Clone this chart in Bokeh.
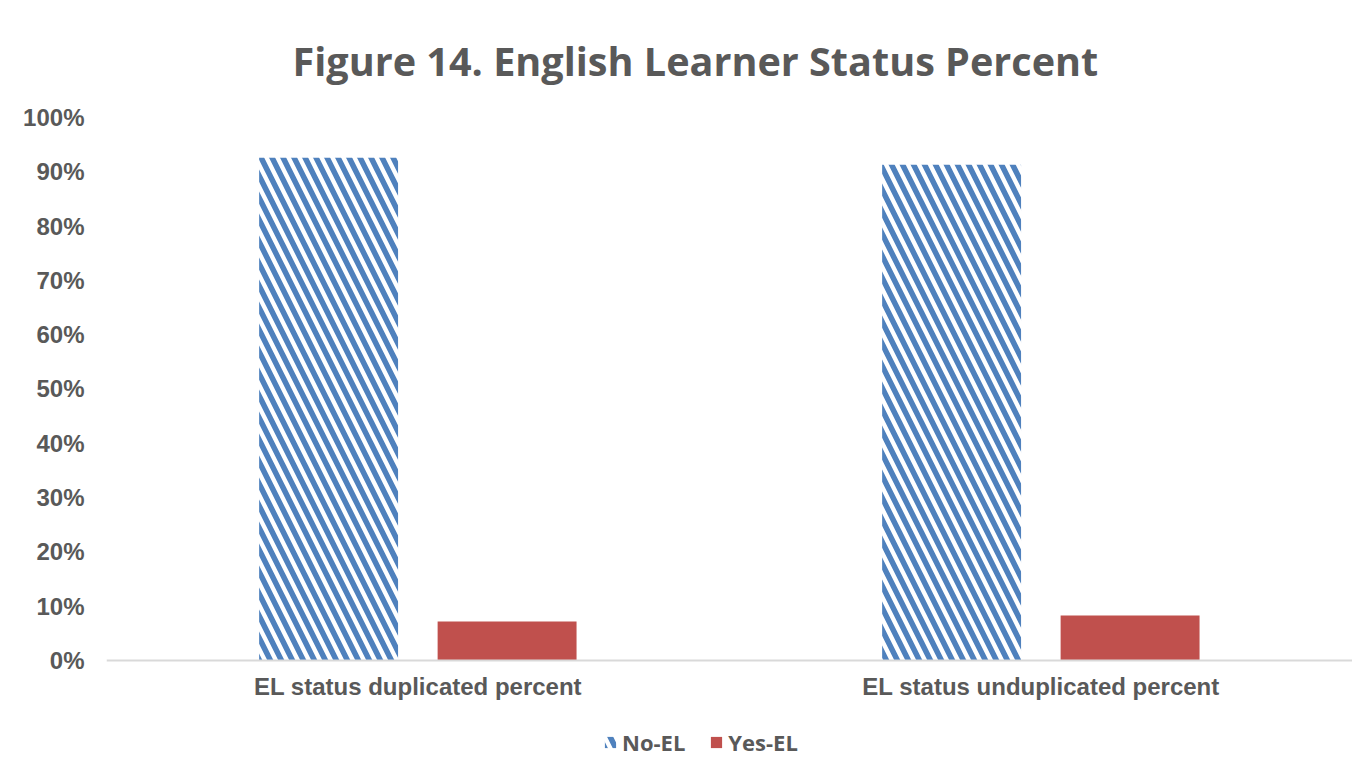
from bokeh.plotting import figure
from bokeh.models import (ColumnDataSource, FactorRange, Range1d, Legend, LegendItem,
                          NumeralTickFormatter, FixedTicker, Title)
from bokeh.transform import dodge
from bokeh.embed import file_html
from bokeh.resources import INLINE

categories = ["EL status duplicated percent", "EL status unduplicated percent"]
no_el = [0.926, 0.913]
yes_el = [0.072, 0.083]
series_names = ["No-EL", "Yes-EL"]
y_ticks = [0.0, 0.1, 0.2, 0.3, 0.4, 0.5, 0.6, 0.7, 0.8, 0.9, 1.0]
title_text = "Figure 14. English Learner Status Percent"

BLUE = "#4F81BD"
RED = "#C0504D"
GREY = "#595959"

src = ColumnDataSource(dict(cat=categories, no=no_el, yes=yes_el))

# frame reaches the bottom of the canvas so that the legend below the axis is not clipped;
# the category axis is pinned at 0
p = figure(x_range=FactorRange(*categories), y_range=Range1d(-0.1897, 1),
           width=1352, height=763, output_backend="svg", toolbar_location=None,
           min_border_left=106, min_border_right=0, min_border_top=117, min_border_bottom=0)
p.title = Title(text=title_text, align="left", offset=186, standoff=60,
                text_font="Open Sans", text_font_style="bold", text_font_size="39.6px",
                text_color=GREY)

r1 = p.vbar(x=dodge("cat", -0.1435, range=p.x_range), top="no", width=0.223, source=src,
            fill_color="white", line_color=None, hatch_pattern="\\", hatch_color=BLUE,
            hatch_scale=22, hatch_weight=5.5)
r2 = p.vbar(x=dodge("cat", 0.143, range=p.x_range), top="yes", width=0.223, source=src,
            fill_color=RED, line_color=None)

p.outline_line_color = None
p.xgrid.visible = False
p.ygrid.visible = False

p.yaxis.ticker = FixedTicker(ticks=y_ticks)
p.yaxis.formatter = NumeralTickFormatter(format="0%")
p.yaxis.axis_line_color = None
p.yaxis.major_tick_line_color = None
p.yaxis.minor_tick_line_color = None
p.yaxis.major_label_text_font = "Liberation Sans"
p.yaxis.major_label_text_font_style = "bold"
p.yaxis.major_label_text_font_size = "24px"
p.yaxis.major_label_text_color = GREY
p.yaxis.major_label_standoff = 16

p.xaxis.fixed_location = 0
p.xaxis.axis_line_color = "#D9D9D9"
p.xaxis.axis_line_width = 2
p.xaxis.major_tick_line_color = None
p.xaxis.minor_tick_line_color = None
p.xaxis.major_label_text_font = "Liberation Sans"
p.xaxis.major_label_text_font_style = "bold"
p.xaxis.major_label_text_font_size = "24px"
p.xaxis.major_label_text_color = GREY
p.xaxis.major_label_standoff = 7

legend = Legend(items=[LegendItem(label=series_names[0], renderers=[r1]),
                       LegendItem(label=series_names[1], renderers=[r2])],
                orientation="horizontal", location=(497, 6),
                glyph_width=14, glyph_height=14, spacing=24, margin=0, padding=4,
                label_text_font="Open Sans", label_text_font_style="bold",
                label_text_font_size="22px", label_text_color=GREY,
                border_line_color=None, background_fill_alpha=0)
p.add_layout(legend, "center")

open("out.html", "w").write(file_html(p, INLINE))
